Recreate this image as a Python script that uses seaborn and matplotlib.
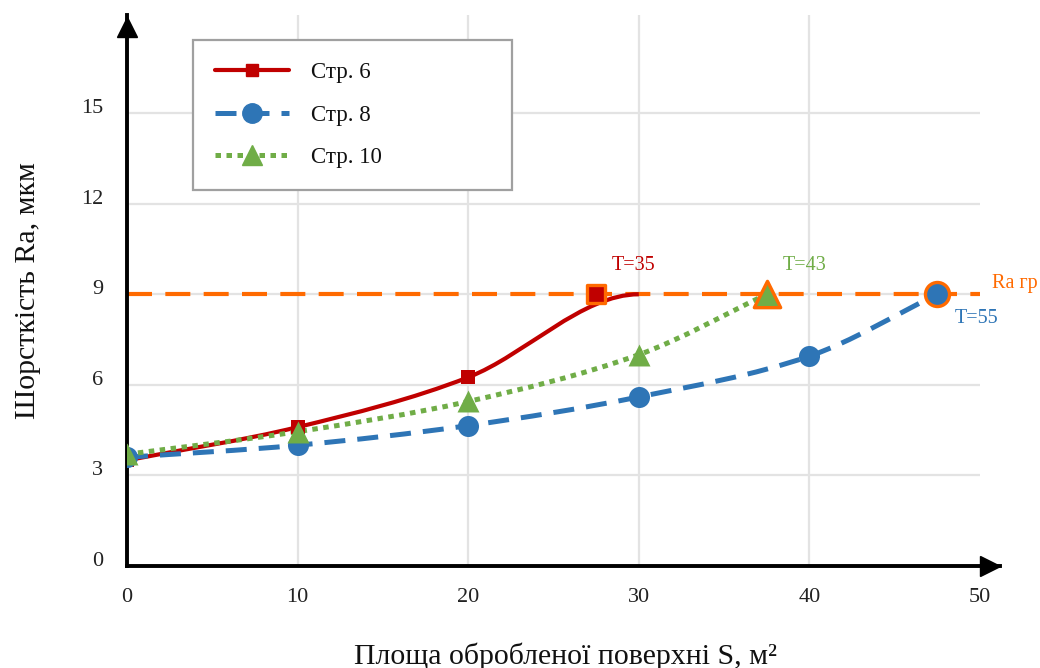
import numpy as np
import pandas as pd
import matplotlib
matplotlib.use("Agg")
import matplotlib.pyplot as plt
import seaborn as sns
from matplotlib.path import Path
from matplotlib.patches import PathPatch
from matplotlib.lines import Line2D
from matplotlib.transforms import ScaledTranslation

# Area of machined surface S (m²) vs. roughness Ra (µm) for three tools
s_str6 = [0, 10, 20, 30]
ra_str6 = [3.5, 4.6, 6.25, 9.0]

s_str8 = [0, 10, 20, 30, 40, 47.5]
ra_str8 = [3.6, 4.0, 4.65, 5.6, 6.95, 9.0]

s_str10 = [0, 10, 20, 30, 37.5]
ra_str10 = [3.7, 4.45, 5.45, 7.0, 9.0]

series_names = ["Стр. 6", "Стр. 8", "Стр. 10"]

# Points where each tool reaches the roughness limit, with tool life labels
ra_limit = 9.0
s_limit = [27.5, 47.5, 37.5]
life_labels = ["T=35", "T=55", "T=43"]

x_ticks = [0, 10, 20, 30, 40, 50]
y_ticks = [0, 3, 6, 9, 12, 15]

RED = "#C00000"
BLUE = "#2E75B6"
GREEN = "#70AD47"
ORANGE = "#FF6A00"

sns.set_theme(style="white")
plt.rcParams["font.family"] = ["Liberation Serif", "DejaVu Serif"]

fig = plt.figure(figsize=(10.4, 6.68), dpi=100)
ax = fig.add_axes([127 / 1040, 102 / 668, 873 / 1040, 551 / 668])
ax.set_xlim(0, 51.17)
ax.set_ylim(0, 18.25)


def smooth_path(xs, ys, end_slope=None):
    """Cubic Bezier path through the points with Catmull-Rom style tangents."""
    xs = np.asarray(xs, float)
    ys = np.asarray(ys, float)
    n = len(xs)
    m = np.empty(n)
    m[0] = (ys[1] - ys[0]) / (xs[1] - xs[0])
    m[-1] = (ys[-1] - ys[-2]) / (xs[-1] - xs[-2]) if end_slope is None else end_slope
    for i in range(1, n - 1):
        m[i] = (ys[i + 1] - ys[i - 1]) / (xs[i + 1] - xs[i - 1])
    verts = [(xs[0], ys[0])]
    codes = [Path.MOVETO]
    for i in range(n - 1):
        h = xs[i + 1] - xs[i]
        verts += [(xs[i] + h / 3, ys[i] + m[i] * h / 3),
                  (xs[i + 1] - h / 3, ys[i + 1] - m[i + 1] * h / 3),
                  (xs[i + 1], ys[i + 1])]
        codes += [Path.CURVE4] * 3
    return Path(verts, codes)


# grid
for xv in x_ticks[1:-1]:
    ax.axvline(xv, color="#E3E3E3", lw=1.6, zorder=0)
for yv in y_ticks[1:]:
    ax.hlines(yv, 0, 50, color="#E3E3E3", lw=1.6, zorder=0)

# roughness limit
ax.hlines(ra_limit, 0, 50, color=ORANGE, lw=3.0, linestyles=(0, (6, 3.2)), zorder=2)

# smoothed series lines
ax.add_patch(PathPatch(smooth_path(s_str6, ra_str6, end_slope=0.0), fill=False,
                       edgecolor=RED, lw=3.0, capstyle="butt", zorder=3))
ax.add_patch(PathPatch(smooth_path(s_str8, ra_str8), fill=False,
                       edgecolor=BLUE, lw=3.6, linestyle=(0, (4.2, 2.4)),
                       capstyle="butt", zorder=3.1))
ax.add_patch(PathPatch(smooth_path(s_str10, ra_str10), fill=False,
                       edgecolor=GREEN, lw=3.6, linestyle=(0, (1.1, 1.1)),
                       capstyle="butt", zorder=3.2))

# markers
df6 = pd.DataFrame({"s": s_str6[:-1], "ra": ra_str6[:-1]})
df8 = pd.DataFrame({"s": s_str8[:-1], "ra": ra_str8[:-1]})
df10 = pd.DataFrame({"s": s_str10[:-1], "ra": ra_str10[:-1]})
sns.scatterplot(data=df6, x="s", y="ra", marker="s", s=110, color=RED,
                edgecolor=RED, linewidth=0, ax=ax, zorder=4)
sns.scatterplot(data=df8, x="s", y="ra", marker="o", s=230, color=BLUE,
                edgecolor=BLUE, linewidth=0, ax=ax, zorder=4.1)
sns.scatterplot(data=df10, x="s", y="ra", marker="^", s=250, color=GREEN,
                edgecolor=GREEN, linewidth=0, ax=ax, zorder=4.2)

# limit points, outlined in orange
lim_df = pd.DataFrame({"s": s_limit, "ra": [ra_limit] * 3})
for i, (mk, col, size) in enumerate([("s", RED, 150), ("o", BLUE, 300), ("^", GREEN, 360)]):
    sns.scatterplot(data=lim_df.iloc[[i]], x="s", y="ra", marker=mk, s=size,
                    color=col, edgecolor=ORANGE, linewidth=2.4, ax=ax, zorder=5)

# tool life labels
ax.text(29.7, 9.95, life_labels[0], color=RED, fontsize=14.5, ha="center", va="center")
ax.text(39.7, 9.95, life_labels[2], color=GREEN, fontsize=14.5, ha="center", va="center")
ax.text(49.8, 8.2, life_labels[1], color=BLUE, fontsize=14.5, ha="center", va="center")
ax.text(52.05, 9.37, "Ra гр", color=ORANGE, fontsize=14.5, ha="center", va="center",
        clip_on=False)

# axes with arrowheads
for side in ("top", "right"):
    ax.spines[side].set_visible(False)
for side in ("left", "bottom"):
    ax.spines[side].set_color("black")
    ax.spines[side].set_linewidth(2.8)
ax.plot(0, 1 - 12 / 551, marker="^", ms=15, color="black", transform=ax.transAxes,
        clip_on=False, zorder=6)
ax.plot(1 - 10 / 873, 0, marker=">", ms=15, color="black", transform=ax.transAxes,
        clip_on=False, zorder=6)

ax.set_xticks(x_ticks)
ax.set_yticks(y_ticks)
ax.tick_params(axis="both", length=0, labelsize=16, labelcolor="#222222")
ax.tick_params(axis="x", pad=16)
ax.tick_params(axis="y", pad=17)
for lab in ax.get_yticklabels():
    lab.set_transform(lab.get_transform() + ScaledTranslation(0, 7 / 100, fig.dpi_scale_trans))

ax.set_xlabel("Площа обробленої поверхні S, м²", fontsize=21.5, color="#111111", va="center")
ax.set_ylabel("Шорсткість Ra, мкм", fontsize=21.5, color="#111111", va="center")
ax.xaxis.set_label_coords(0.502, -0.163)
ax.yaxis.set_label_coords(-0.113, 0.5)

handles = [
    Line2D([], [], color=RED, lw=3.0, marker="s", ms=9),
    Line2D([], [], color=BLUE, lw=3.6, ls=(0, (4.2, 2.4)), marker="o", ms=14),
    Line2D([], [], color=GREEN, lw=3.6, ls=(0, (1.1, 1.1)), marker="^", ms=15),
]
leg = ax.legend(handles, series_names, loc="upper left",
                bbox_to_anchor=(66 / 873, 0.5, 319 / 873, (566 - 40) / 551 - 0.5),
                mode="expand", fontsize=16.5, frameon=True, fancybox=False,
                framealpha=1, edgecolor="#A0A0A0", handlelength=3.25,
                handletextpad=0.95, labelspacing=0.95, borderpad=0.95,
                borderaxespad=0, numpoints=1)
leg.get_frame().set_linewidth(1.6)
for t in leg.get_texts():
    t.set_color("#111111")

fig.savefig("out.png", dpi=100)
